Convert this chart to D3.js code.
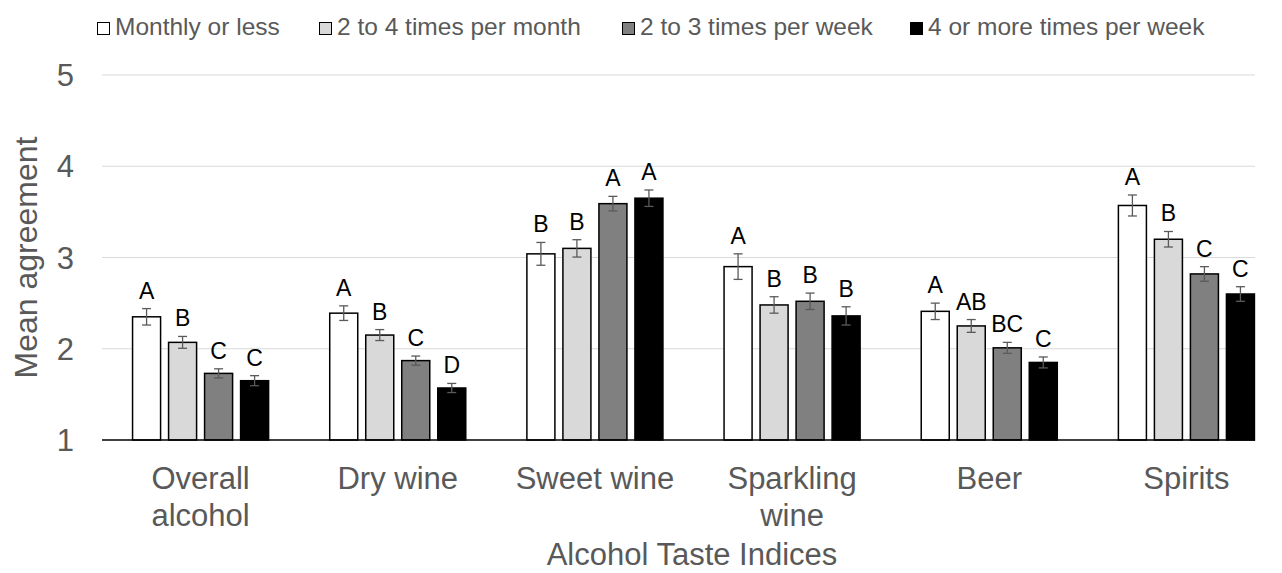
<!DOCTYPE html>
<html>
<head>
<meta charset="utf-8">
<script src="https://cdn.jsdelivr.net/npm/d3@7"></script>
<style>
  body { margin: 0; background: #fff; }
  svg { font-family: "Liberation Sans", Arial, sans-serif; }
</style>
</head>
<body>
<div id="chart"></div>
<script>
// data
const categories = ['Overall alcohol', 'Dry wine', 'Sweet wine', 'Sparkling wine', 'Beer', 'Spirits'];
const categoryLines = [['Overall', 'alcohol'], ['Dry wine'], ['Sweet wine'], ['Sparkling', 'wine'], ['Beer'], ['Spirits']];
const seriesNames = ['Monthly or less', '2 to 4 times per month', '2 to 3 times per week', '4 or more times per week'];
const seriesFill = ['#ffffff', '#d9d9d9', '#808080', '#000000'];

const means = [
  [2.35, 2.07, 1.73, 1.65],
  [2.39, 2.15, 1.87, 1.57],
  [3.04, 3.10, 3.59, 3.65],
  [2.90, 2.48, 2.52, 2.36],
  [2.41, 2.25, 2.01, 1.85],
  [3.57, 3.20, 2.82, 2.60]
];
const errors = [
  [0.09, 0.065, 0.05, 0.055],
  [0.08, 0.06, 0.05, 0.05],
  [0.125, 0.095, 0.08, 0.09],
  [0.14, 0.09, 0.09, 0.10],
  [0.09, 0.07, 0.06, 0.06],
  [0.115, 0.085, 0.08, 0.08]
];
const letters = [
  ['A', 'B', 'C', 'C'],
  ['A', 'B', 'C', 'D'],
  ['B', 'B', 'A', 'A'],
  ['A', 'B', 'B', 'B'],
  ['A', 'AB', 'BC', 'C'],
  ['A', 'B', 'C', 'C']
];
const yTicks = [1, 2, 3, 4, 5];

const width = 1282;
const height = 573;
const margin = {top: 75, right: 27, bottom: 133, left: 102};
const plotRight = width - margin.right;

const svg = d3.select('#chart')
  .append('svg')
  .attr('width', width)
  .attr('height', height);

// the groups sit a bit to the right in the original, so the band range runs past the grid
const x0 = d3.scaleBand()
  .domain(categories)
  .range([margin.left, 1285])
  .paddingInner(0.31)
  .paddingOuter(0.155);

const x1 = d3.scaleBand()
  .domain(seriesNames)
  .range([0, x0.bandwidth()])
  .paddingInner(0.222);

const y = d3.scaleLinear()
  .domain([1, 5])
  .range([height - margin.bottom, margin.top]);

// gridlines
svg.append('g')
  .selectAll('line')
  .data(yTicks.slice(1))
  .enter()
  .append('line')
  .attr('x1', margin.left)
  .attr('x2', plotRight)
  .attr('y1', d => y(d))
  .attr('y2', d => y(d))
  .attr('stroke', '#d9d9d9')
  .attr('stroke-width', 1);

// y tick labels
svg.append('g')
  .selectAll('text')
  .data(yTicks)
  .enter()
  .append('text')
  .attr('x', 74)
  .attr('y', d => y(d))
  .attr('dy', '0.36em')
  .attr('text-anchor', 'end')
  .attr('font-size', 31)
  .attr('fill', '#595959')
  .text(d => d);

// y title
svg.append('text')
  .attr('transform', `translate(37,${(margin.top + height - margin.bottom) / 2}) rotate(-90)`)
  .attr('text-anchor', 'middle')
  .attr('font-size', 32)
  .attr('fill', '#595959')
  .text('Mean agreement');

// bars
const groups = svg.append('g')
  .selectAll('g')
  .data(categories)
  .enter()
  .append('g')
  .attr('transform', d => `translate(${x0(d)},0)`);

const cells = groups.selectAll('g')
  .data((c, ci) => seriesNames.map((s, si) => ({
    s, si, v: means[ci][si], e: errors[ci][si], l: letters[ci][si]
  })))
  .enter()
  .append('g');

cells.append('rect')
  .attr('x', d => x1(d.s))
  .attr('y', d => y(d.v))
  .attr('width', x1.bandwidth())
  .attr('height', d => y(1) - y(d.v))
  .attr('fill', d => seriesFill[d.si])
  .attr('stroke', '#000')
  .attr('stroke-width', 1.5);

const errColor = '#5a5a5a';
const cap = 4.5;
const mid = d => x1(d.s) + x1.bandwidth() / 2;
cells.append('line')
  .attr('x1', mid)
  .attr('x2', mid)
  .attr('y1', d => y(d.v + d.e))
  .attr('y2', d => y(d.v - d.e))
  .attr('stroke', errColor)
  .attr('stroke-width', 1.3);
cells.append('line')
  .attr('x1', d => mid(d) - cap)
  .attr('x2', d => mid(d) + cap)
  .attr('y1', d => y(d.v + d.e))
  .attr('y2', d => y(d.v + d.e))
  .attr('stroke', errColor)
  .attr('stroke-width', 1.3);
cells.append('line')
  .attr('x1', d => mid(d) - cap)
  .attr('x2', d => mid(d) + cap)
  .attr('y1', d => y(d.v - d.e))
  .attr('y2', d => y(d.v - d.e))
  .attr('stroke', errColor)
  .attr('stroke-width', 1.3);

cells.append('text')
  .attr('x', mid)
  .attr('y', d => y(d.v + d.e) - 10)
  .attr('text-anchor', 'middle')
  .attr('font-size', 23)
  .attr('fill', '#000')
  .text(d => d.l);

// x axis line
svg.append('line')
  .attr('x1', margin.left)
  .attr('x2', plotRight)
  .attr('y1', y(1))
  .attr('y2', y(1))
  .attr('stroke', '#000')
  .attr('stroke-width', 1.5);

// x category labels
const xl = svg.append('g')
  .selectAll('text')
  .data(categories)
  .enter()
  .append('text')
  .attr('x', d => x0(d) + x0.bandwidth() / 2)
  .attr('y', 489)
  .attr('text-anchor', 'middle')
  .attr('font-size', 31)
  .attr('fill', '#595959');
xl.selectAll('tspan')
  .data((d, i) => categoryLines[i])
  .enter()
  .append('tspan')
  .attr('x', function() { return d3.select(this.parentNode).attr('x'); })
  .attr('dy', (d, i) => i === 0 ? 0 : 37)
  .text(d => d);

// x title
svg.append('text')
  .attr('x', 692)
  .attr('y', 565)
  .attr('text-anchor', 'middle')
  .attr('font-size', 31)
  .attr('fill', '#595959')
  .text('Alcohol Taste Indices');

// legend
const legendX = [97, 319, 622, 910];
const lg = svg.append('g')
  .selectAll('g')
  .data(seriesNames)
  .enter()
  .append('g')
  .attr('transform', (d, i) => `translate(${legendX[i]},0)`);
lg.append('rect')
  .attr('x', 0.5)
  .attr('y', 22.5)
  .attr('width', 12)
  .attr('height', 12)
  .attr('fill', (d, i) => seriesFill[i])
  .attr('stroke', '#000')
  .attr('stroke-width', 1);
lg.append('text')
  .attr('x', 18)
  .attr('y', 35)
  .attr('font-size', 24.5)
  .attr('fill', '#595959')
  .text(d => d);
</script>
</body>
</html>
